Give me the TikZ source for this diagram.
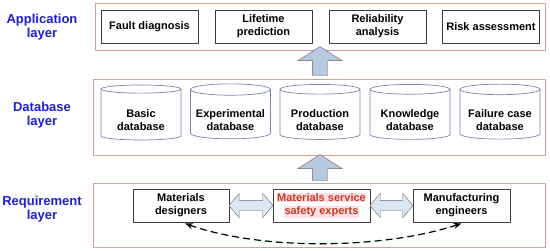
\documentclass[tikz,border=0pt]{standalone}
\usepackage{fontspec}
\setmainfont{Liberation Sans}
\usetikzlibrary{shapes.geometric,shapes.arrows,calc,arrows.meta}
\definecolor{layerblue}{RGB}{30,30,215}
\definecolor{layerline}{RGB}{215,160,150}
\definecolor{boxline}{RGB}{60,60,60}
\definecolor{dbline}{RGB}{120,130,170}
\definecolor{upfill}{RGB}{185,200,225}
\definecolor{pairfill}{RGB}{220,230,242}
\definecolor{expertred}{RGB}{195,60,30}
\definecolor{pinkbg}{RGB}{255,222,232}
\begin{document}
\begin{tikzpicture}[x=1pt,y=1pt,
  layer/.style={draw=layerline, line width=0.9pt, rectangle},
  layername/.style={text=layerblue, font=\fontsize{13}{14}\selectfont\bfseries, align=center},
  item/.style={draw=boxline, line width=0.9pt, rectangle, fill=white, minimum width=97pt, minimum height=33pt, align=center, font=\fontsize{11}{13}\selectfont\bfseries},
  dbase/.style={draw=dbline, line width=0.7pt, cylinder, shape border rotate=90, aspect=0.15, minimum width=80pt, minimum height=55pt, align=center, font=\fontsize{11}{13}\selectfont\bfseries},
  uparrow/.style={draw=gray!80!black, fill=upfill, single arrow, shape border rotate=90, inner sep=7.5pt, single arrow head extend=14.5pt, single arrow tip angle=115, minimum height=29pt},
  pairarrow/.style={draw=gray!80!black, fill=pairfill, double arrow, inner sep=5pt, double arrow head extend=7pt, double arrow tip angle=100, minimum height=44pt}]
\useasboundingbox (0,0) rectangle (550,250);
% layers
\node[layer, minimum width=450pt, minimum height=47pt] (applayer) at (320,223.5) {};
\node[layer, minimum width=452pt, minimum height=76pt] (dblayer) at (319,133) {};
\node[layer, minimum width=452pt, minimum height=64pt] (reqlayer) at (319,35) {};
\node[layername] (applabel) at (42,223) {Application\\layer};
\node[layername] (dblabel) at (42,135) {Database\\layer};
\node[layername] (reqlabel) at (42,41) {Requirement\\layer};
% application layer
\node[item] (fault) at (149.5,223.5) {Fault diagnosis};
\node[item] (life) at (263.5,223.5) {Lifetime\\prediction};
\node[item] (rel) at (377.5,223.5) {Reliability\\analysis};
\node[item] (risk) at (491,223.5) {Risk assessment};
% database layer
\node[dbase] (basic) at (141,134.5) {\rule{0pt}{17pt}Basic\\database};
\node[dbase] (exper) at (230.5,134.5) {\rule{0pt}{17pt}Experimental\\database};
\node[dbase] (prod) at (320,134.5) {\rule{0pt}{17pt}Production\\database};
\node[dbase] (know) at (410,134.5) {\rule{0pt}{17pt}Knowledge\\database};
\node[dbase] (fail) at (500,134.5) {\rule{0pt}{17pt}Failure case\\database};
% requirement layer
\node[item, minimum width=96pt] (designers) at (181,44.5) {Materials\\designers};
\node[item, text=expertred] (experts) at (321.5,44.5) {\setlength{\fboxsep}{0.5pt}\colorbox{pinkbg}{Materials service}\\\setlength{\fboxsep}{0.5pt}\colorbox{pinkbg}{safety experts}};
\node[item] (engineers) at (461.5,44.5) {Manufacturing\\engineers};
% arrows
\node[uparrow] (up1) at (320,186.5) {};
\node[uparrow, minimum height=26pt] (up2) at (320,80) {};
\node[pairarrow] (pair1) at ($(designers.east)!0.5!(experts.west)$) {};
\node[pairarrow, minimum height=43pt] (pair2) at ($(experts.east)!0.5!(engineers.west)$) {};
\draw[line width=1.2pt, dash pattern=on 7pt off 4pt, {Stealth[length=8pt,width=6pt]}-{Stealth[length=8pt,width=6pt]}] ([xshift=4pt,yshift=-1pt]designers.south) .. controls (260,0) and (380,0) .. ([yshift=-1pt]engineers.south);
\end{tikzpicture}
\end{document}
